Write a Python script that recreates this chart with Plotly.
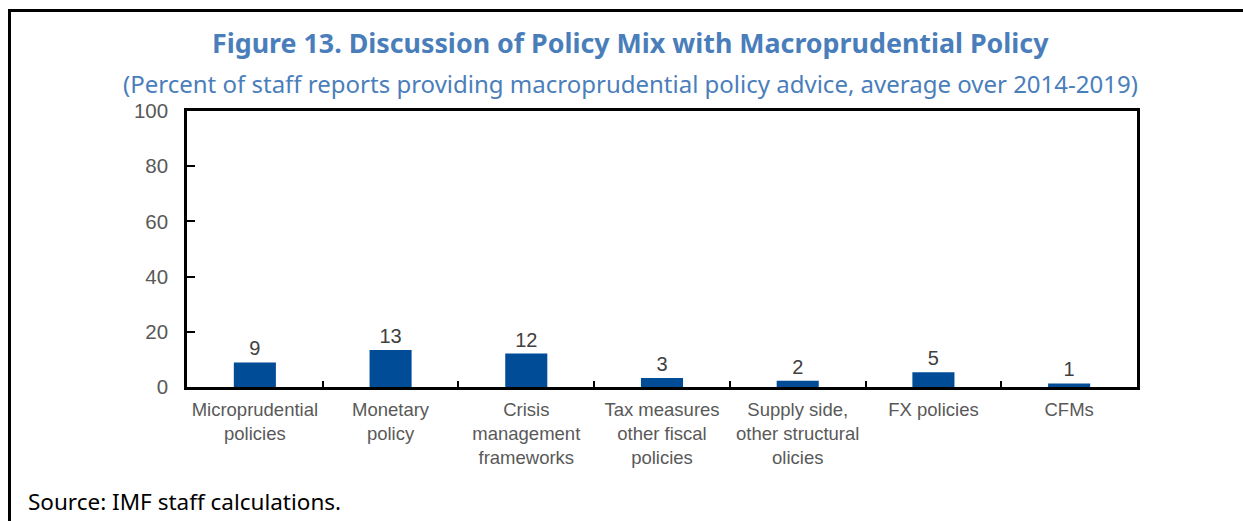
import plotly.graph_objects as go

categories = [
    "Microprudential<br>policies",
    "Monetary<br>policy",
    "Crisis<br>management<br>frameworks",
    "Tax measures<br>other fiscal<br>policies",
    "Supply side,<br>other structural<br>olicies",
    "FX policies",
    "CFMs",
]
values = [8.9, 13.4, 12.1, 3.3, 2.3, 5.3, 1.3]
y_ticks = [0, 20, 40, 60, 80, 100]

title_text = "Figure 13. Discussion of Policy Mix with Macroprudential Policy"
subtitle_text = "(Percent of staff reports providing macroprudential policy advice, average over 2014-2019)"
source_text = "Source: IMF staff calculations."

W, H = 1243, 521
L, R, T, B = 187, 106, 111, 134
pw, ph = W - L - R, H - T - B

def px(x):
    return (x - L) / pw

def py(y):
    return 1 - (y - T) / ph

fig = go.Figure()
fig.add_trace(go.Bar(
    x=categories, y=values,
    marker=dict(color="#004C97", line=dict(width=0)),
    texttemplate="%{y:.0f}", textposition="outside",
    textfont=dict(family="Liberation Sans, Arial", size=20, color="#404040"),
    cliponaxis=False,
    width=0.31,
))

fig.update_layout(
    width=W, height=H,
    margin=dict(l=L, r=R, t=T, b=B, autoexpand=False),
    paper_bgcolor="white", plot_bgcolor="white",
    showlegend=False,
    xaxis=dict(
        showline=True, linecolor="black", linewidth=2.5, mirror=True,
        ticks="inside", tickson="boundaries", ticklen=6, tickcolor="black", tickwidth=1.5,
        tickfont=dict(family="Liberation Sans, Arial", size=18.5, color="#595959"),
        tickangle=0, automargin=False,
        showgrid=False,
        ticklabelstandoff=4,
    ),
    yaxis=dict(
        range=[0, 100], tickvals=y_ticks,
        showline=True, linecolor="black", linewidth=2.5, mirror=True,
        ticks="inside", ticklen=8, tickcolor="black", tickwidth=1.5,
        tickfont=dict(family="Liberation Sans, Arial", size=20.5, color="#595959"),
        showgrid=False, zeroline=False, automargin=False,
        ticklabelstandoff=12,
    ),
)

fig.add_annotation(text="<b>" + title_text + "</b>", xref="paper", yref="paper",
                   x=px(630), y=py(42), xanchor="center", yanchor="middle", showarrow=False,
                   font=dict(family="Noto Sans", size=26.8, color="#4a7ebb"))
fig.add_annotation(text=subtitle_text, xref="paper", yref="paper",
                   x=px(630), y=py(83), xanchor="center", yanchor="middle", showarrow=False,
                   font=dict(family="Noto Sans", size=24, color="#4a7ebb"))
fig.add_annotation(text=source_text, xref="paper", yref="paper",
                   x=px(26), y=py(501), xanchor="left", yanchor="middle", showarrow=False,
                   font=dict(family="Noto Sans", size=22.5, color="black"))

fig.add_shape(type="path", xref="paper", yref="paper",
              path=f"M {px(9.5)},{py(560)} L {px(9.5)},{py(10.5)} L {px(1260)},{py(10.5)}",
              line=dict(color="black", width=3))

fig.write_html("out.html")
